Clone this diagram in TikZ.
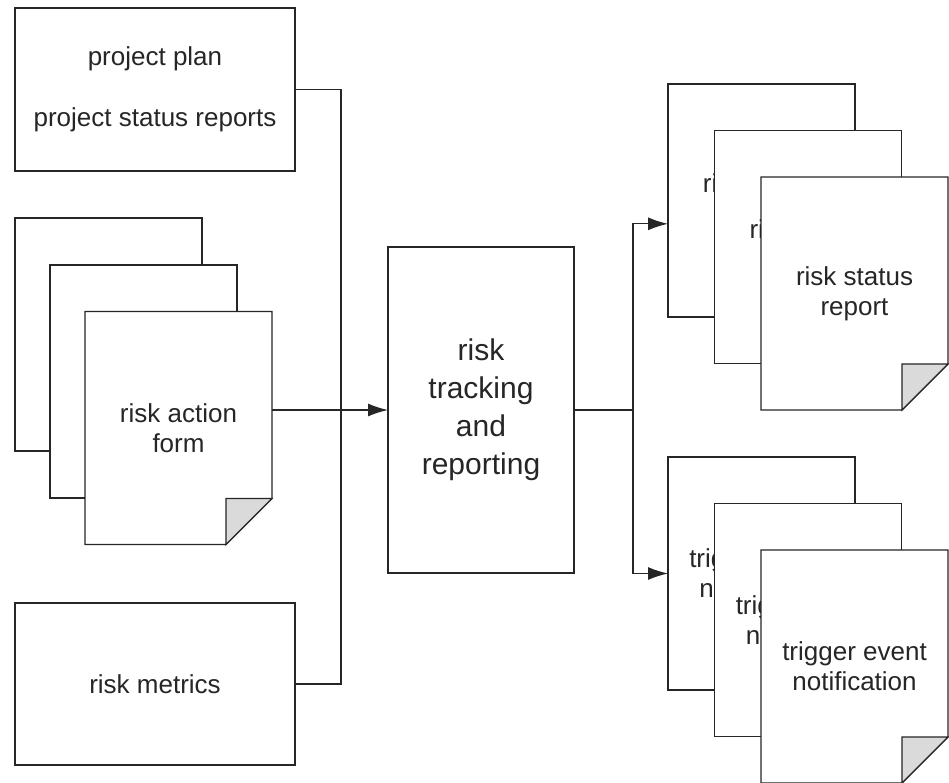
\documentclass[tikz,border=0pt]{standalone}
\usepackage{fontspec}
\setmainfont{Liberation Sans}
\usetikzlibrary{arrows.meta,calc}
\definecolor{ink}{HTML}{262626}
\definecolor{foldgray}{HTML}{DADADA}

% outline of a front sheet with its folded bottom-right corner
\newcommand\docfold[1]{%
  \draw[ink] (#1.north west) -- (#1.north east)
    -- ($(#1.south east)+(0pt,46pt)$) -- ($(#1.south east)+(-46pt,0pt)$)
    -- (#1.south west) -- cycle;
  \filldraw[draw=ink, fill=foldgray] ($(#1.south east)+(0pt,46pt)$)
    -- ($(#1.south east)+(-46pt,46pt)$) -- ($(#1.south east)+(-46pt,0pt)$) -- cycle;
}
% a line of which only the first letters stay uncovered by the sheet in front
\newcommand\peek[2]{\rlap{#1}\phantom{#2}}

\begin{document}
\begin{tikzpicture}[x=1pt, y=-1pt, line width=1.3pt,
  label/.style={font=\fontsize{26}{30}\selectfont, text=ink, align=center},
  sheet/.style={label, rectangle, draw=ink, fill=white, inner sep=0pt, outer sep=0pt,
    minimum width=187pt, minimum height=233pt},
  frontsheet/.style={sheet, draw=none},
  infobox/.style={label, rectangle, draw=ink, fill=white, inner sep=0pt, outer sep=0pt,
    minimum width=280pt, minimum height=163pt},
  process/.style={rectangle, draw=ink, fill=white, inner sep=0pt, outer sep=0pt,
    minimum width=186pt, minimum height=326pt, align=center, text=ink,
    font=\fontsize{30}{38}\selectfont},
  link/.style={draw=ink, line width=1.3pt},
  arrow/.style={link, -{Latex[length=20pt, width=13pt]}},
]
\useasboundingbox (0,0) rectangle (949,782);

% inputs
\node[infobox] (pp) at (155,89.5) {project plan\\[31pt]project status reports};

\node[sheet] (ra1) at (108.5,334.5) {};
\node[sheet] (ra2) at (143.5,381.5) {};
\node[frontsheet] (ra3) at (178.5,428) {risk action\\form};
\docfold{ra3}

\node[infobox, minimum height=162pt] (rm) at (155,684) {risk metrics};

% process
\node[process] (rt) at (481,410) {risk\\tracking\\and\\reporting};

% outputs
\node[sheet] (rs1) at (761.5,200.5) {\peek{ri}{risk status}\\\phantom{report}};
\node[sheet] (rs2) at (808,247) {\peek{ri}{risk status}\\\phantom{report}};
\node[frontsheet] (rs3) at (854.5,293.5) {risk status\\report};
\docfold{rs3}

\node[sheet] (te1) at (761.5,573.5) {\peek{trig}{trigger event}\\\peek{n}{notification}};
\node[sheet] (te2) at (808,620) {\peek{trig}{trigger event}\\\peek{n}{notification}};
\node[frontsheet] (te3) at (854.5,666.5) {trigger event\\notification};
\docfold{te3}

% connectors
\coordinate (bus) at (341,410);
\coordinate (split) at (633,410);
\coordinate (rsin) at ($(rs1.north west)!0.6!(rs1.south west)$);

\draw[link] (pp.east) -| (bus) |- (rm.east);
\draw[arrow] (ra3.east |- rt.west) -- (rt.west);
\draw[link] (rt.east) -- (split);
\draw[arrow] (split) |- (rsin);
\draw[arrow] (split) |- (te1.west);
\end{tikzpicture}
\end{document}
